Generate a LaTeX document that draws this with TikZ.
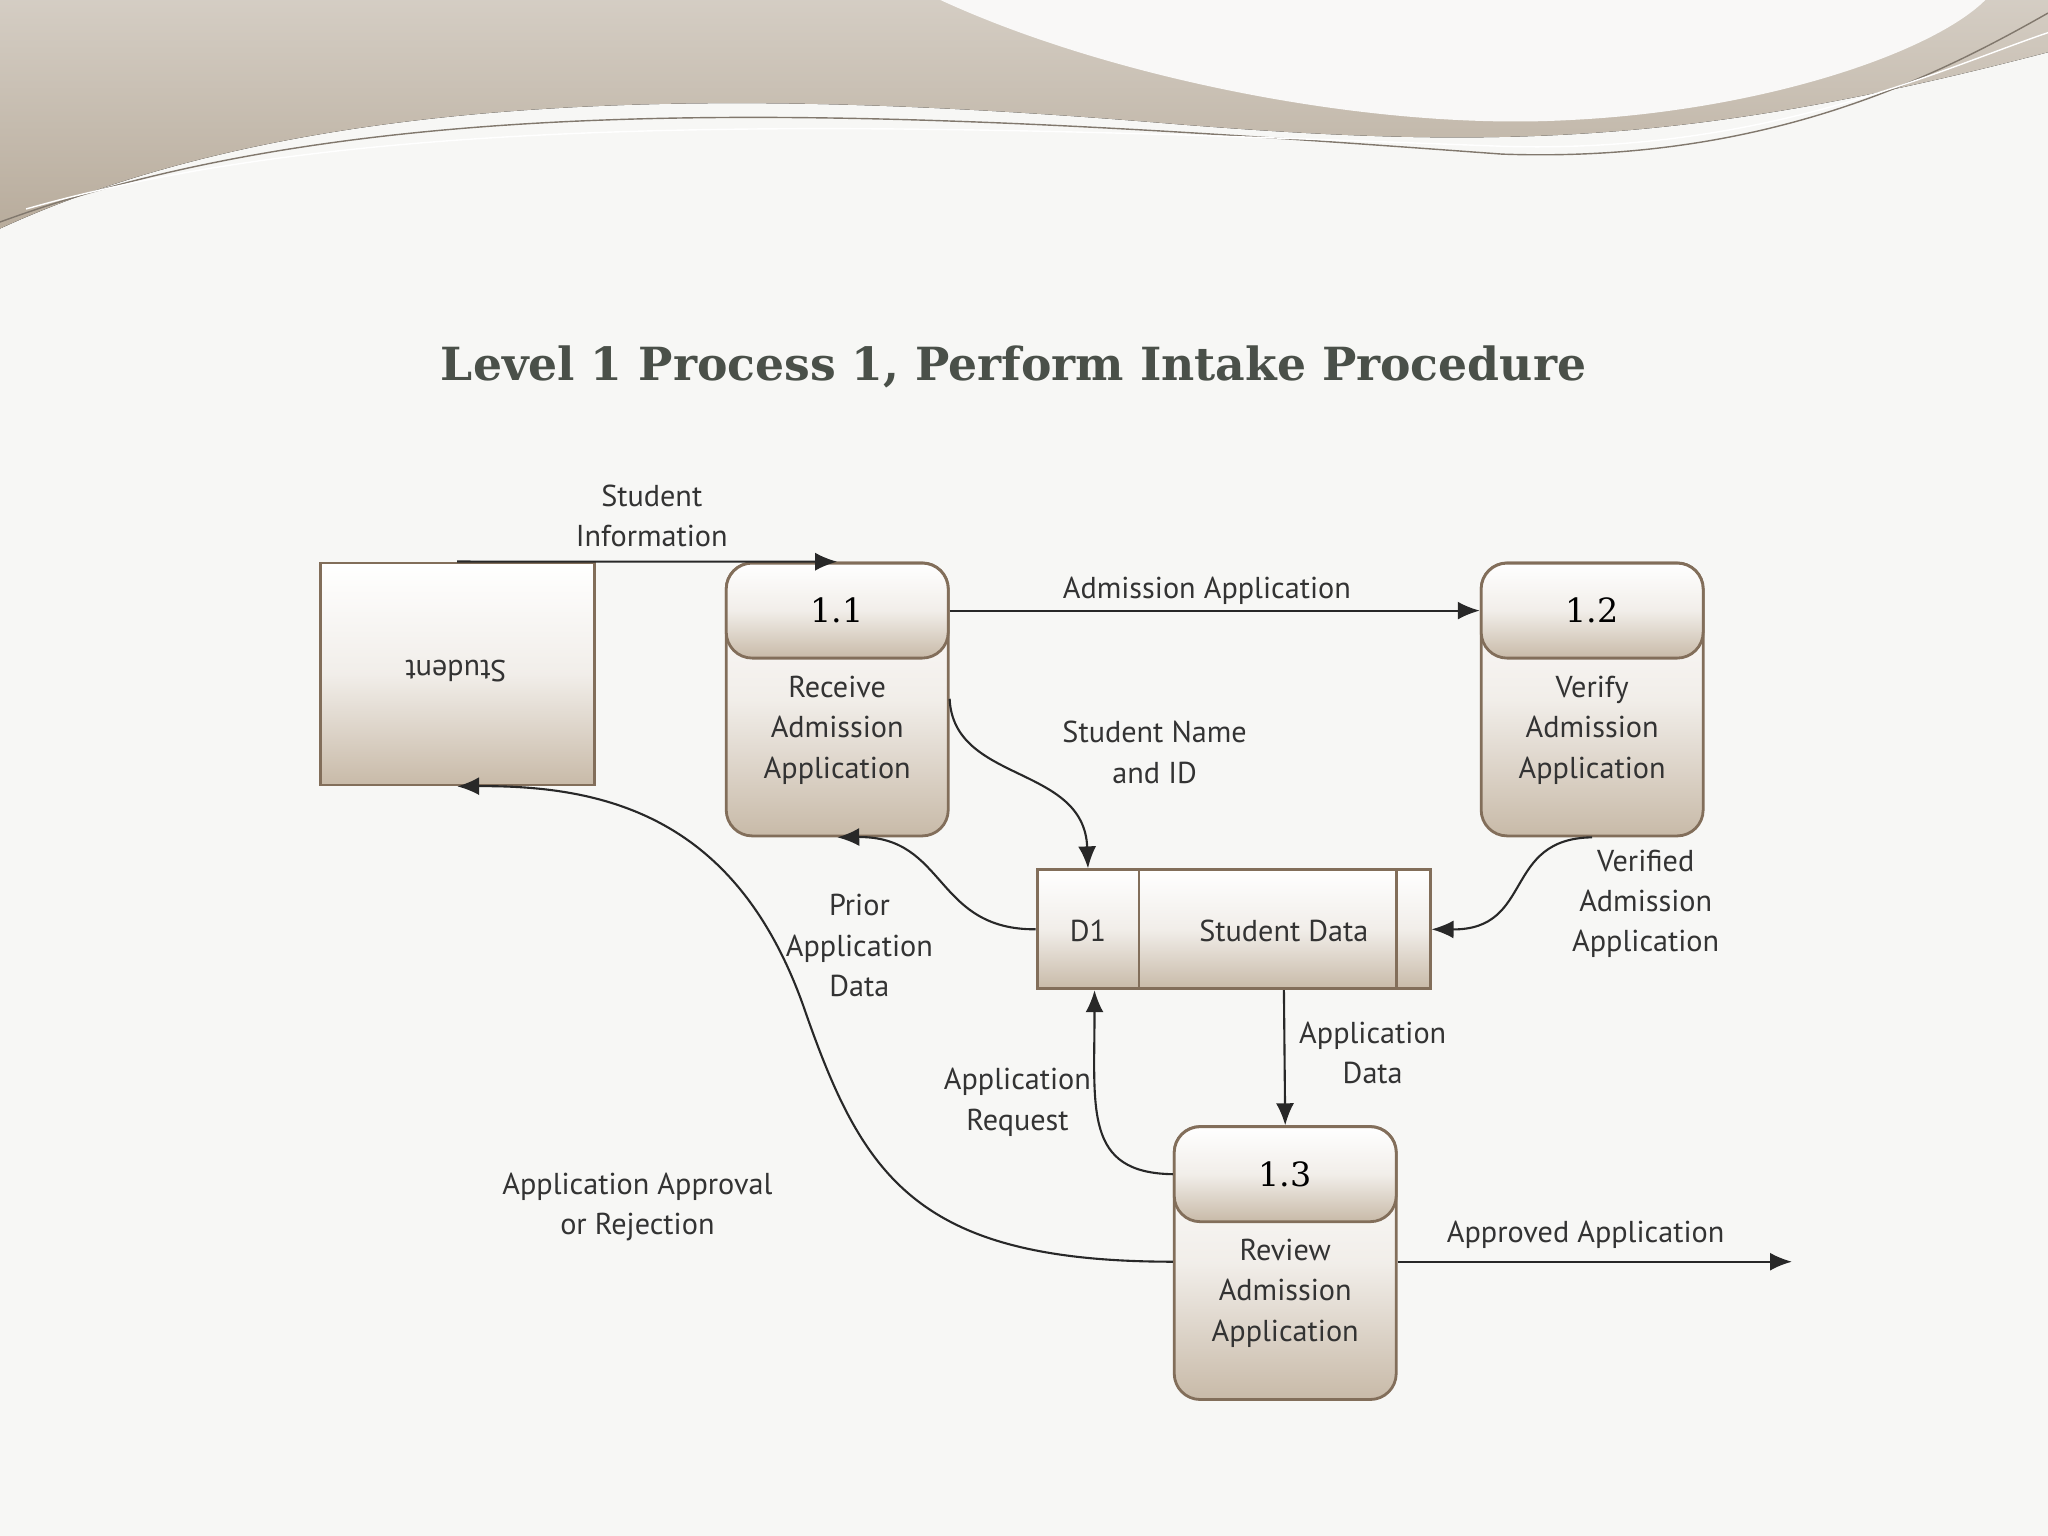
\documentclass[tikz,border=0pt]{standalone}
\usepackage{fontspec}
\setmainfont{PT Sans}
\newfontfamily\titlefont{DejaVu Serif}
\usetikzlibrary{arrows.meta}
\definecolor{pagebg}{RGB}{247,247,245}
\definecolor{boxtan}{RGB}{200,186,168}
\definecolor{boxedge}{RGB}{130,110,90}
\definecolor{wavetan}{RGB}{184,172,156}
\definecolor{titlegray}{RGB}{74,80,73}
\definecolor{flowline}{RGB}{40,40,40}

\tikzset{
  shade box/.style={draw=boxedge,thick,top color=white,bottom color=boxtan,middle color=white!75!boxtan},
  proc/.style={shade box,rounded corners=0.26cm,minimum width=2.22cm,minimum height=2.73cm,inner sep=0pt},
  prochead/.style={shade box,rounded corners=0.26cm,minimum width=2.22cm,minimum height=0.95cm,inner sep=0pt,font=\titlefont\fontsize{9.5}{12}\selectfont},
  lbl/.style={align=center,font=\fontsize{8.6}{11.5}\selectfont,text=black!80},
  flow/.style={-{Latex[length=2.2mm,width=1.8mm]},flowline,semithick}
}

\begin{document}
\begin{tikzpicture}[x=0.01306cm,y=-0.01306cm]
\useasboundingbox[fill=pagebg] (0,0) rectangle (1568,1176);

% waves on top
\fill[top color=wavetan!60,bottom color=wavetan] (0,0) -- (1568,0) -- (1568,40)
  .. controls (1300,110) and (1150,115) .. (900,95)
  .. controls (600,70) and (250,60) .. (0,175) -- cycle;
\fill[white!92!wavetan] (720,0) .. controls (850,60) and (1050,100) .. (1200,92)
  .. controls (1350,85) and (1480,40) .. (1520,0) -- cycle;
\draw[wavetan!70!black,thin] (0,170) .. controls (300,60) and (700,85) .. (1150,118)
  .. controls (1350,125) and (1480,60) .. (1568,10);
\draw[white,thin] (20,160) .. controls (300,80) and (700,95) .. (1150,112)
  .. controls (1350,118) and (1480,55) .. (1568,25);

% title
\node[font=\titlefont\bfseries\fontsize{13}{15}\selectfont,text=titlegray] (title) at (776,281) {Level 1 Process 1, Perform Intake Procedure};

% external entity
\node[shade box,minimum width=2.74cm,minimum height=2.22cm] (student) at (350,516) {};
\node[lbl,rotate=180] (studenttxt) at (349,514) {Student};

% processes
\node[proc] (p11) at (641,535.5) {};
\node[prochead] (h11) at (641,467.5) {1.1};
\node[lbl] (t11) at (641,559) {Receive\\Admission\\Application};

\node[proc] (p12) at (1219,535.5) {};
\node[prochead] (h12) at (1219,467.5) {1.2};
\node[lbl] (t12) at (1219,559) {Verify\\Admission\\Application};

\node[proc] (p13) at (984,967) {};
\node[prochead] (h13) at (984,899) {1.3};
\node[lbl] (t13) at (984,990) {Review\\Admission\\Application};

% data store
\node[shade box,minimum width=3.93cm,minimum height=1.19cm] (d1) at (944.5,711.5) {};
\draw[boxedge,thick] (872,666) -- (872,757) (1069,666) -- (1069,757);
\node[lbl] (d1id) at (833,713) {D1};
\node[lbl] (d1txt) at (983,713) {Student Data};

% free end
\coordinate (out) at (1372,966);

% flows
\draw[flow] (student.north) -- (h11.north);
\node[lbl] at (499,395) {Student\\Information};

\draw[flow] (h11.east) -- (h12.west);
\node[lbl] at (924,452) {Admission Application};

\draw[flow] (p11.east |- 0,535) .. controls (730,600) and (830,585) .. (d1.north -| 833,0);
\node[lbl] at (884,576) {Student Name\\and ID};

\draw[flow] (d1.west) .. controls (715,712) and (725,640) .. (p11.south);
\node[lbl] at (658,724) {Prior\\Application\\Data};

\draw[flow] (p12.south) .. controls (1150,642) and (1175,712) .. (d1.east);
\node[lbl] at (1260,692) {Verified\\Admission\\Application};

\draw[flow] (d1.south -| 983,0) -- (h13.north);
\node[lbl] at (1051,806) {Application\\Data};

\draw[flow] (h13.west) .. controls (830,898) and (838,850) .. (d1.south -| 838,0);
\node[lbl] at (779,844) {Application\\Request};

\draw[flow] (p13.west |- 0,966) .. controls (700,966) and (660,900) .. (615,770)
  .. controls (565,630) and (470,601) .. (student.south);
\node[lbl] at (488,924) {Application Approval\\or Rejection};

\draw[flow] (p13.east |- 0,966) -- (out);
\node[lbl] at (1214,945) {Approved Application};
\end{tikzpicture}
\end{document}
